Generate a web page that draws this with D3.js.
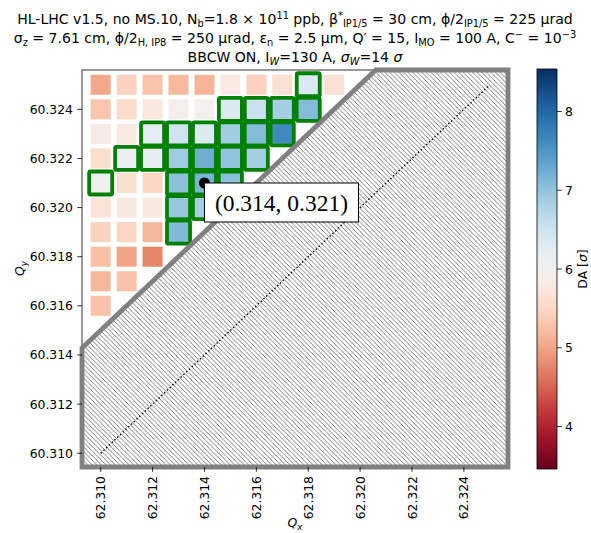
<!DOCTYPE html>
<html><head><meta charset="utf-8">
<script src="https://cdn.jsdelivr.net/npm/d3@7"></script>
<style>body{margin:0;background:#fff} svg{display:block}</style>
</head><body><svg id="c" width="591" height="533"></svg>
<script>
// ---------------- data ----------------
const qxValues = [62.310, 62.311, 62.312, 62.313, 62.314, 62.315, 62.316, 62.317, 62.318, 62.319];
const qyValues = [60.325, 60.324, 60.323, 60.322, 60.321, 60.320, 60.319, 60.318, 60.317, 60.316];
// DA per row (row i = qyValues[i]), starting at qx = 62.310
const daRows = [
  [5.03, 5.44, 5.29, 5.19, 5.14, 5.80, 5.44, 5.64, 6.36, 5.64],
  [5.30, 5.55, 5.75, 5.95, 5.98, 6.35, 6.55, 6.85, 7.10],
  [5.82, 5.80, 6.25, 6.50, 6.35, 6.88, 7.10, 7.63],
  [5.60, 6.12, 6.20, 6.90, 7.25, 7.00, 6.85],
  [6.08, 5.62, 5.50, 7.05, 7.18, 7.05],
  [5.68, 5.78, 5.78, 6.95, 6.85],
  [5.45, 5.47, 5.17, 7.12],
  [5.25, 5.00, 4.75],
  [5.15, 5.28],
  [5.28]
];
const greenThreshold = 6;
const xTicks = [62.310, 62.312, 62.314, 62.316, 62.318, 62.320, 62.322, 62.324];
const yTicks = [60.310, 60.312, 60.314, 60.316, 60.318, 60.320, 60.322, 60.324];
const cbTicks = [4, 5, 6, 7, 8];
const daRange = [3.46, 8.54];
const xDomain = [62.30928, 62.32570];
const yDomain = [60.30944, 60.32560];
const diagOffset = 0.005;          // forbidden region: frac(Qy) < frac(Qx) + 0.005
const diagLine = [[62.310, 60.310], [62.325, 60.325]];
const workingPoint = [62.314, 60.321];
const annotationText = "(0.314, 0.321)";

// ---------------- layout ----------------
const svg = d3.select("#c");
const L = 82, R = 508, T = 70, B = 467;
const x = d3.scaleLinear().domain(xDomain).range([L, R]);
const y = d3.scaleLinear().domain(yDomain).range([B, T]);
const color = v => d3.interpolateRdBu((v - daRange[0]) / (daRange[1] - daRange[0]));
const FONT = "DejaVu Sans";

const defs = svg.append("defs");
const HS = 4.6;
const pat = defs.append("pattern").attr("id", "hatch").attr("patternUnits", "userSpaceOnUse")
  .attr("width", HS).attr("height", HS);
pat.append("rect").attr("width", HS).attr("height", HS).attr("fill", "#fff");
pat.append("path").attr("d", `M0,0L${HS},${HS}M-1,${HS - 1}L1,${HS + 1}M${HS - 1},-1L${HS + 1},1`)
  .attr("stroke", "#444").attr("stroke-width", 0.7);

// ---------------- title ----------------
function richText(sel, parts, size) {
  let shift = 0;
  parts.forEach(p => {
    const target = p.s === "sub" ? size * 0.22 : p.s === "sup" ? -size * 0.38 : 0;
    const ts = sel.append("tspan").text(p.t)
      .attr("font-size", p.s ? size * 0.7 : size)
      .attr("dy", target - shift);
    if (p.i) ts.attr("font-style", "italic");
    shift = target;
  });
}
const TS = 14.05;
const titleLines = [
  [{t: "HL-LHC v1.5, no MS.10, N"}, {t: "b", s: "sub"}, {t: "=1.8 × 10"}, {t: "11", s: "sup"},
   {t: " ppb, β"}, {t: "*", s: "sup"}, {t: "IP1/5", s: "sub"}, {t: " = 30 cm, ϕ/2"}, {t: "IP1/5", s: "sub"},
   {t: " = 225 μrad"}],
  [{t: "σ"}, {t: "z", s: "sub"}, {t: " = 7.61 cm,  ϕ/2"}, {t: "H, IP8", s: "sub"}, {t: " = 250 μrad, ε"},
   {t: "n", s: "sub"}, {t: " = 2.5 μm, Q′ = 15, I"}, {t: "MO", s: "sub"}, {t: " = 100 A, C"}, {t: "−", s: "sup"},
   {t: " = 10"}, {t: "−3", s: "sup"}],
  [{t: "BBCW ON, I"}, {t: "W", s: "sub", i: true}, {t: "=130 A, "}, {t: "σ", i: true}, {t: "W", s: "sub", i: true},
   {t: "=14 "}, {t: "σ", i: true}]
];
const titleY = [24, 43, 62];
titleLines.forEach((parts, i) => {
  const t = svg.append("text").attr("x", (L + R) / 2).attr("y", titleY[i])
    .attr("text-anchor", "middle").attr("font-family", FONT).attr("fill", "#000");
  richText(t, parts, TS);
});

// ---------------- cells ----------------
const cells = [];
daRows.forEach((row, i) => row.forEach((v, j) => cells.push({qx: qxValues[j], qy: qyValues[i], da: v})));
const plot = svg.append("g");
const CS = 20;
plot.selectAll("rect.cell").data(cells).join("rect").attr("class", "cell")
  .attr("x", d => x(d.qx) - CS / 2).attr("y", d => y(d.qy) - CS / 2)
  .attr("width", CS).attr("height", CS).attr("fill", d => color(d.da));
const GS = 23;
plot.selectAll("rect.green").data(cells.filter(d => d.da > greenThreshold)).join("rect").attr("class", "green")
  .attr("x", d => x(d.qx) - GS / 2).attr("y", d => y(d.qy) - GS / 2)
  .attr("width", GS).attr("height", GS).attr("rx", 1.5).attr("fill", "none")
  .attr("stroke", "#008000").attr("stroke-width", 3.8).attr("stroke-linejoin", "round");

// spines
svg.append("rect").attr("x", L).attr("y", T).attr("width", R - L).attr("height", B - T)
  .attr("fill", "none").attr("stroke", "#000").attr("stroke-width", 0.8);

// ---------------- forbidden region ----------------
const xmin = xDomain[0], xmax = xDomain[1], ymin = yDomain[0], ymax = yDomain[1];
const dq = 2 - diagOffset; // Qx - Qy on the boundary
const poly = [[xmin, xmin - dq], [xmin, ymin], [xmax, ymin], [xmax, ymax], [ymax + dq, ymax]];
svg.append("path").attr("d", d3.line().x(d => x(d[0])).y(d => y(d[1]))(poly) + "Z")
  .attr("fill", "url(#hatch)").attr("stroke", "#808080").attr("stroke-width", 4.8)
  .attr("stroke-linejoin", "miter");

svg.append("path").attr("d", d3.line().x(d => x(d[0])).y(d => y(d[1]))(diagLine))
  .attr("stroke", "#000").attr("stroke-width", 1.4).attr("stroke-dasharray", "1.4,2.4").attr("fill", "none");

// working point + annotation
const px = x(workingPoint[0]), py = y(workingPoint[1]);
svg.append("circle").attr("cx", px).attr("cy", py).attr("r", 5.5).attr("fill", "#000");
const bw = 154, bh = 39;
svg.append("rect").attr("x", px).attr("y", py).attr("width", bw).attr("height", bh)
  .attr("fill", "#fff").attr("stroke", "#000").attr("stroke-width", 1);
svg.append("text").attr("x", px + bw / 2).attr("y", py + bh / 2 + 8)
  .attr("text-anchor", "middle").attr("font-family", "Liberation Serif").attr("font-size", 23.5)
  .attr("fill", "#000").text(annotationText);

// ---------------- axes ----------------
const TF = 12.4;
const xa = svg.append("g");
xTicks.forEach(t => {
  xa.append("line").attr("x1", x(t)).attr("x2", x(t)).attr("y1", B).attr("y2", B + 4.8)
    .attr("stroke", "#000").attr("stroke-width", 0.8);
  xa.append("text").attr("transform", `translate(${x(t)},${B + 9}) rotate(-90)`)
    .attr("text-anchor", "end").attr("dominant-baseline", "central")
    .attr("font-family", FONT).attr("font-size", TF).text(t.toFixed(3));
});
const ya = svg.append("g");
yTicks.forEach(t => {
  ya.append("line").attr("x1", L - 4.8).attr("x2", L).attr("y1", y(t)).attr("y2", y(t))
    .attr("stroke", "#000").attr("stroke-width", 0.8);
  ya.append("text").attr("x", L - 9).attr("y", y(t)).attr("text-anchor", "end")
    .attr("dominant-baseline", "central").attr("font-family", FONT).attr("font-size", TF).text(t.toFixed(3));
});
const xl = svg.append("text").attr("x", (L + R) / 2).attr("y", 527).attr("text-anchor", "middle")
  .attr("font-family", FONT).attr("fill", "#000");
richText(xl, [{t: "Q", i: true}, {t: "x", s: "sub", i: true}], TF);
const yl = svg.append("text").attr("transform", `translate(24,${(T + B) / 2}) rotate(-90)`)
  .attr("text-anchor", "middle").attr("font-family", FONT).attr("fill", "#000");
richText(yl, [{t: "Q", i: true}, {t: "y", s: "sub", i: true}], TF);

// ---------------- colorbar ----------------
const cbX = 537, cbW = 20, cbT = 69, cbB = 469;
const cy = d3.scaleLinear().domain(daRange).range([cbB, cbT]);
const grad = defs.append("linearGradient").attr("id", "cbgrad").attr("x1", 0).attr("x2", 0).attr("y1", 1).attr("y2", 0);
d3.range(0, 1.0001, 0.02).forEach(f => grad.append("stop").attr("offset", f).attr("stop-color", d3.interpolateRdBu(f)));
svg.append("rect").attr("x", cbX).attr("y", cbT).attr("width", cbW).attr("height", cbB - cbT)
  .attr("fill", "url(#cbgrad)").attr("stroke", "#000").attr("stroke-width", 0.8);
cbTicks.forEach(t => {
  svg.append("line").attr("x1", cbX + cbW).attr("x2", cbX + cbW + 4.8).attr("y1", cy(t)).attr("y2", cy(t))
    .attr("stroke", "#000").attr("stroke-width", 0.8);
  svg.append("text").attr("x", cbX + cbW + 8).attr("y", cy(t)).attr("dominant-baseline", "central")
    .attr("font-family", FONT).attr("font-size", TF).text(t);
});
const cbl = svg.append("text").attr("transform", `translate(587,${(cbT + cbB) / 2}) rotate(-90)`)
  .attr("text-anchor", "middle").attr("font-family", FONT).attr("font-size", TF).attr("fill", "#000");
cbl.append("tspan").text("DA [");
cbl.append("tspan").attr("font-style", "italic").text("σ");
cbl.append("tspan").text("]");
</script></body></html>
